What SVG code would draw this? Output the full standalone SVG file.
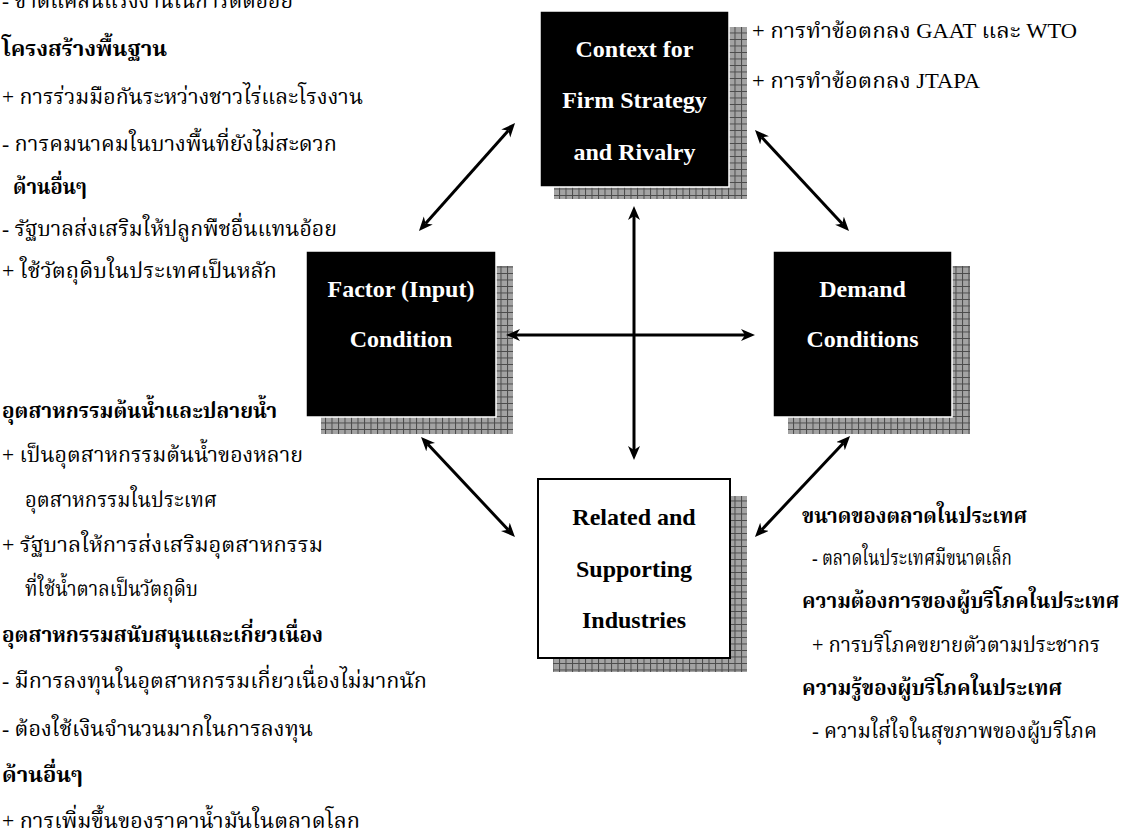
<svg xmlns="http://www.w3.org/2000/svg" width="1121" height="831" viewBox="0 0 1121 831">
  <defs>
    <!-- checkered grey fill used for the drop shadows -->
    <pattern id="grid" patternUnits="userSpaceOnUse" width="6.5" height="6.5">
      <rect width="6.5" height="6.5" fill="#a3a3a3"/>
      <path d="M0,0.5 H6.5 M0.5,0 V6.5" stroke="#4a4a4a" stroke-width="1"/>
    </pattern>
    <marker id="head" markerUnits="userSpaceOnUse" markerWidth="16" markerHeight="14" refX="4" refY="6" orient="auto-start-reverse">
      <path d="M0,0 L14,6 L0,12 L4,6 Z" fill="#000"/>
    </marker>
    <style>
      .shadow { fill: url(#grid); }
      .dark { fill: #000; stroke: #fff; stroke-width: 1.5; }
      .light { fill: #fff; stroke: #000; stroke-width: 2; }
      .label { font-family: "Liberation Serif", "Times New Roman", serif; font-weight: bold; font-size: 24px; text-anchor: middle; }
      .w { fill: #fff; }
      .k { fill: #000; }
      .note { font-family: "Liberation Serif", "Noto Serif Thai", "Noto Sans Thai", serif; font-size: 22px; fill: #000; }
      .b { font-weight: bold; }
      .arrow { stroke: #000; stroke-width: 3; fill: none; marker-start: url(#head); marker-end: url(#head); }
    </style>
  </defs>

  <rect width="1121" height="831" fill="#fff"/>

  <!-- Context for Firm Strategy and Rivalry -->
  <g id="context">
    <rect class="shadow" x="554" y="27" width="193" height="172"/>
    <rect class="dark" x="540" y="11" width="189" height="176"/>
    <text class="label w" x="634.5" y="57">Context for</text>
    <text class="label w" x="634.5" y="108">Firm Strategy</text>
    <text class="label w" x="634.5" y="160">and Rivalry</text>
  </g>

  <!-- Factor (Input) Condition -->
  <g id="factor">
    <rect class="shadow" x="321" y="266" width="192" height="168"/>
    <rect class="dark" x="306" y="251" width="190" height="166"/>
    <text class="label w" x="401" y="297">Factor (Input)</text>
    <text class="label w" x="401" y="347">Condition</text>
  </g>

  <!-- Demand Conditions -->
  <g id="demand">
    <rect class="shadow" x="788" y="266" width="182" height="168"/>
    <rect class="dark" x="773" y="251" width="179" height="166"/>
    <text class="label w" x="862.5" y="297">Demand</text>
    <text class="label w" x="862.5" y="347">Conditions</text>
  </g>

  <!-- Related and Supporting Industries -->
  <g id="related">
    <rect class="shadow" x="553" y="496" width="194" height="176"/>
    <rect class="light" x="538" y="479" width="192" height="179"/>
    <text class="label k" x="634" y="525">Related and</text>
    <text class="label k" x="634" y="577">Supporting</text>
    <text class="label k" x="634" y="628">Industries</text>
  </g>

  <!-- two-headed arrows between the four determinants -->
  <g id="connectors">
    <line class="arrow" x1="425.6" y1="223.5" x2="508.4" y2="130.5"/>
    <line class="arrow" x1="761.8" y1="137.3" x2="842.2" y2="223.7"/>
    <line class="arrow" x1="634" y1="216" x2="634" y2="450"/>
    <line class="arrow" x1="516" y1="335" x2="745" y2="335"/>
    <line class="arrow" x1="427.9" y1="444.3" x2="508.1" y2="529.7"/>
    <line class="arrow" x1="843.2" y1="443.3" x2="761.8" y2="529.7"/>
  </g>

  <!-- notes on factor conditions -->
  <g id="notes-factor" class="note">
    <text x="2" y="8" textLength="291" lengthAdjust="spacingAndGlyphs">- ขาดแคลนแรงงานในการตัดอ้อย</text>
    <text class="b" x="2" y="56" textLength="165" lengthAdjust="spacingAndGlyphs">โครงสร้างพื้นฐาน</text>
    <text x="2" y="104" textLength="361" lengthAdjust="spacingAndGlyphs">+ การร่วมมือกันระหว่างชาวไร่และโรงงาน</text>
    <text x="2" y="151" textLength="335" lengthAdjust="spacingAndGlyphs">- การคมนาคมในบางพื้นที่ยังไม่สะดวก</text>
    <text class="b" x="13" y="194" textLength="74" lengthAdjust="spacingAndGlyphs">ด้านอื่นๆ</text>
    <text x="2" y="236" textLength="335" lengthAdjust="spacingAndGlyphs">- รัฐบาลส่งเสริมให้ปลูกพืชอื่นแทนอ้อย</text>
    <text x="2" y="278" textLength="275" lengthAdjust="spacingAndGlyphs">+ ใช้วัตถุดิบในประเทศเป็นหลัก</text>
  </g>

  <!-- notes on firm strategy -->
  <g id="notes-context" class="note">
    <text x="752" y="38" textLength="325" lengthAdjust="spacingAndGlyphs">+ การทำข้อตกลง GAAT และ WTO</text>
    <text x="752" y="88" textLength="228" lengthAdjust="spacingAndGlyphs">+ การทำข้อตกลง JTAPA</text>
  </g>

  <!-- notes on related and supporting industries -->
  <g id="notes-related" class="note">
    <text class="b" x="2" y="418" textLength="275" lengthAdjust="spacingAndGlyphs">อุตสาหกรรมต้นน้ำและปลายน้ำ</text>
    <text x="2" y="462" textLength="301" lengthAdjust="spacingAndGlyphs">+ เป็นอุตสาหกรรมต้นน้ำของหลาย</text>
    <text x="25" y="507" textLength="192" lengthAdjust="spacingAndGlyphs">อุตสาหกรรมในประเทศ</text>
    <text x="2" y="552" textLength="321" lengthAdjust="spacingAndGlyphs">+ รัฐบาลให้การส่งเสริมอุตสาหกรรม</text>
    <text x="25" y="596" textLength="173" lengthAdjust="spacingAndGlyphs">ที่ใช้น้ำตาลเป็นวัตถุดิบ</text>
    <text class="b" x="2" y="642" textLength="321" lengthAdjust="spacingAndGlyphs">อุตสาหกรรมสนับสนุนและเกี่ยวเนื่อง</text>
    <text x="2" y="688" textLength="425" lengthAdjust="spacingAndGlyphs">- มีการลงทุนในอุตสาหกรรมเกี่ยวเนื่องไม่มากนัก</text>
    <text x="2" y="736" textLength="311" lengthAdjust="spacingAndGlyphs">- ต้องใช้เงินจำนวนมากในการลงทุน</text>
    <text class="b" x="2" y="782" textLength="81" lengthAdjust="spacingAndGlyphs">ด้านอื่นๆ</text>
    <text x="2" y="828" textLength="358" lengthAdjust="spacingAndGlyphs">+ การเพิ่มขึ้นของราคาน้ำมันในตลาดโลก</text>
  </g>

  <!-- notes on demand conditions -->
  <g id="notes-demand" class="note">
    <text class="b" x="802" y="523" textLength="225" lengthAdjust="spacingAndGlyphs">ขนาดของตลาดในประเทศ</text>
    <text x="812" y="565" textLength="200" lengthAdjust="spacingAndGlyphs">- ตลาดในประเทศมีขนาดเล็ก</text>
    <text class="b" x="802" y="608" textLength="317" lengthAdjust="spacingAndGlyphs">ความต้องการของผู้บริโภคในประเทศ</text>
    <text x="812" y="652" textLength="288" lengthAdjust="spacingAndGlyphs">+ การบริโภคขยายตัวตามประชากร</text>
    <text class="b" x="802" y="695" textLength="260" lengthAdjust="spacingAndGlyphs">ความรู้ของผู้บริโภคในประเทศ</text>
    <text x="812" y="738" textLength="285" lengthAdjust="spacingAndGlyphs">- ความใส่ใจในสุขภาพของผู้บริโภค</text>
  </g>
</svg>
